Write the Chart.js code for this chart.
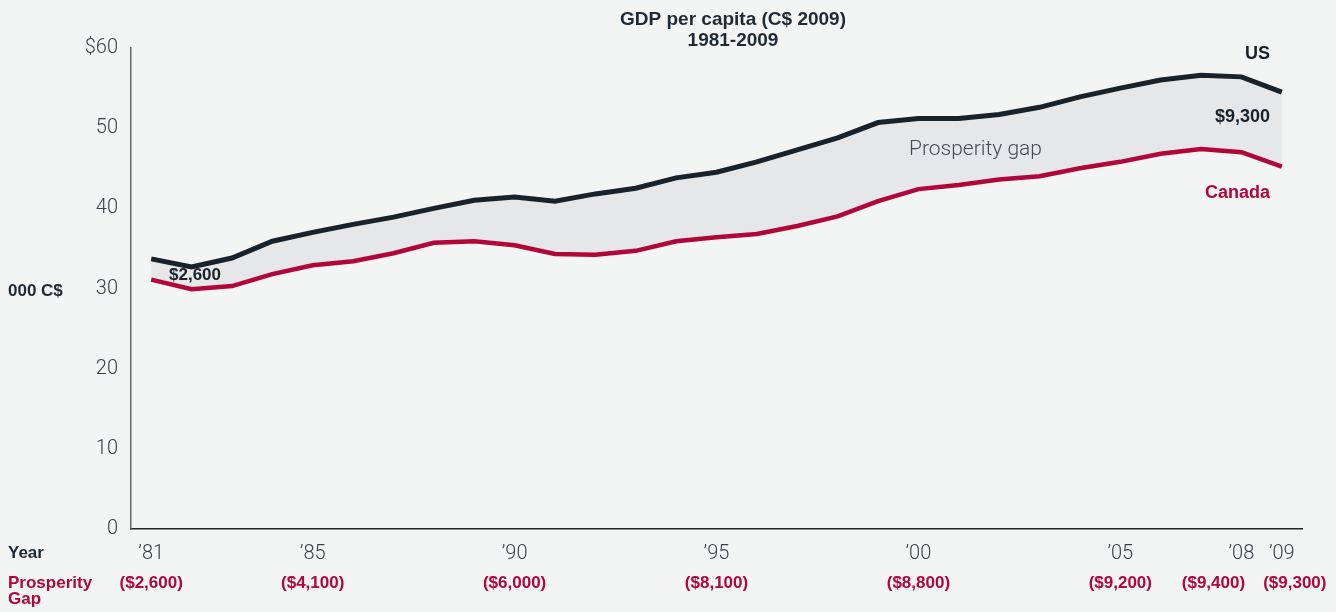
<!DOCTYPE html>
<html>
<head>
<meta charset="utf-8">
<script src="https://cdn.jsdelivr.net/npm/chart.js@4/dist/chart.umd.min.js"></script>
<style>
  html, body { margin: 0; padding: 0; background: #f3f4f4; }
  #wrap { width: 1336px; height: 612px; position: relative; }
</style>
</head>
<body>
<div id="wrap"><canvas id="gdpChart" width="1336" height="612"></canvas></div>
<script>
// datos: PIB per capita, miles de C$ 2009
var anios = [1981, 1982, 1983, 1984, 1985, 1986, 1987, 1988, 1989, 1990,
             1991, 1992, 1993, 1994, 1995, 1996, 1997, 1998, 1999, 2000,
             2001, 2002, 2003, 2004, 2005, 2006, 2007, 2008, 2009];
var pibUS = [33.7, 32.7, 33.8, 35.9, 37.0, 38.0, 38.9, 40.0, 41.0, 41.4,
             40.9, 41.8, 42.5, 43.8, 44.5, 45.8, 47.3, 48.8, 50.7, 51.2,
             51.2, 51.7, 52.6, 53.9, 55.0, 56.0, 56.6, 56.4, 54.5];
var pibCanada = [31.1, 29.9, 30.3, 31.8, 32.9, 33.4, 34.4, 35.7, 35.9, 35.4,
                 34.3, 34.2, 34.7, 35.9, 36.4, 36.8, 37.8, 39.0, 40.9, 42.4,
                 42.9, 43.6, 44.0, 45.0, 45.8, 46.8, 47.4, 47.0, 45.2];
var aniosEtiqueta = [1981, 1985, 1990, 1995, 2000, 2005, 2008, 2009];
var brecha = ['($2,600)', '($4,100)', '($6,000)', '($8,100)', '($8,800)', '($9,200)', '($9,400)', '($9,300)'];
var ticksY = [0, 10, 20, 30, 40, 50, 60];

var colorUS = '#17222b';
var colorCanada = '#b1063a';
var colorBrecha = '#e6e7e9';
var fuenteBold = '"Liberation Sans", Arial, sans-serif';
var fuenteLight = 'Roboto, "Liberation Sans", sans-serif';

// textos fuera del area del grafico
var textosExtra = {
  id: 'textosExtra',
  afterDraw: function (chart) {
    var ctx = chart.ctx;
    var x = chart.scales.x;
    var y = chart.scales.y;
    ctx.save();
    ctx.textBaseline = 'middle';

    // titulo
    ctx.fillStyle = '#1e2a35';
    ctx.font = 'bold 19px ' + fuenteBold;
    ctx.textAlign = 'center';
    ctx.fillText('GDP per capita (C$ 2009)', 733, 20);
    ctx.fillText('1981-2009', 733, 41);

    // rotulos a la izquierda
    ctx.textAlign = 'left';
    ctx.font = 'bold 17px ' + fuenteBold;
    ctx.fillText('000 C$', 8, 291);
    ctx.fillText('Year', 8, 553);
    ctx.fillStyle = colorCanada;
    ctx.fillText('Prosperity', 8, 583);
    ctx.fillText('Gap', 8, 599);

    // fila de brecha bajo los años ('08 y '09 se separan para no chocar)
    ctx.textAlign = 'center';
    aniosEtiqueta.forEach(function (a, i) {
      var px = x.getPixelForValue(anios.indexOf(a));
      if (a === 2008) px -= 28;
      if (a === 2009) px += 13;
      ctx.fillText(brecha[i], px, 583);
    });

    // etiquetas de series
    ctx.textAlign = 'right';
    ctx.fillStyle = colorUS;
    ctx.font = 'bold 18px ' + fuenteBold;
    ctx.fillText('US', 1270, 54);
    ctx.fillText('$9,300', 1270, 117);
    ctx.fillStyle = colorCanada;
    ctx.fillText('Canada', 1270, 193);

    ctx.fillStyle = colorUS;
    ctx.textAlign = 'left';
    ctx.font = 'bold 17px ' + fuenteBold;
    var yIni = (y.getPixelForValue(pibUS[1]) + y.getPixelForValue(pibCanada[1])) / 2;
    ctx.fillText('$2,600', 169, yIni - 3);

    ctx.fillStyle = '#444b52';
    ctx.font = '300 21px ' + fuenteLight;
    ctx.fillText('Prosperity gap', 909, 150);
    ctx.restore();
  }
};

var ctxGdp = document.getElementById('gdpChart').getContext('2d');
var gdpChart = new Chart(ctxGdp, {
  type: 'line',
  data: {
    labels: anios,
    datasets: [{
      label: 'US',
      data: pibUS,
      borderColor: colorUS,
      borderWidth: 5,
      pointRadius: 0,
      fill: false,
      tension: 0
    }, {
      label: 'Canada',
      data: pibCanada,
      borderColor: colorCanada,
      borderWidth: 4.5,
      pointRadius: 0,
      backgroundColor: colorBrecha,
      fill: '-1',
      tension: 0
    }]
  },
  options: {
    responsive: false,
    animation: false,
    layout: { padding: { top: 48, right: 34, left: 0, bottom: 0 } },
    plugins: {
      legend: { display: false },
      tooltip: { enabled: false },
      title: { display: false }
    },
    scales: {
      x: {
        type: 'category',
        offset: true,
        grid: { display: false, drawTicks: false },
        border: { display: true, color: '#222', width: 1.5 },
        afterFit: function (s) { s.height = 83; },
        ticks: {
          autoSkip: false,
          maxRotation: 0,
          padding: 13,
          color: '#3a4047',
          font: { family: fuenteLight, size: 20, weight: '300' },
          callback: function (v, i) {
            var a = anios[i];
            return aniosEtiqueta.indexOf(a) >= 0 ? '\u2019' + String(a).slice(2) : '';
          }
        }
      },
      y: {
        min: 0,
        max: 60,
        grid: { display: false, drawTicks: false },
        border: { display: true, color: '#666', width: 1.5 },
        afterFit: function (s) { s.width = 131; },
        afterBuildTicks: function (s) { s.ticks = ticksY.map(function (v) { return { value: v }; }); },
        ticks: {
          padding: 13,
          color: '#3a4047',
          font: { family: fuenteLight, size: 20, weight: '300' },
          callback: function (v) { return v === 60 ? '$60' : v; }
        }
      }
    }
  },
  plugins: [textosExtra]
});
</script>
</body>
</html>
